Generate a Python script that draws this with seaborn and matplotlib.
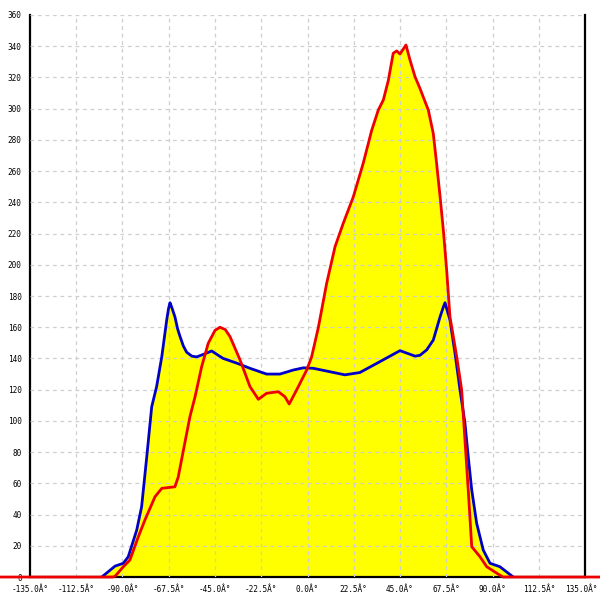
import matplotlib
matplotlib.use("Agg")
import matplotlib.pyplot as plt
import matplotlib.transforms as mtransforms
import seaborn as sns
import pandas as pd

# --- data (angle in degrees, count) ---
blue_x = [-100.1, -93.6, -89.6, -87.2, -83.1, -80.7, -78.2, -75.8, -73.4, -70.9,
          -68.5, -67.6, -66.9, -66.1, -64.5, -63.2, -62.0, -60.4, -58.8, -56.3, -53.9,
          -49.9, -46.6, -43.4, -41.0,
          -34.4, -28.0, -19.9, -13.4, -6.9, -2.0, 2.8, 10.9, 18.2, 25.5,
          35.3, 45.0, 52.3, 54.7, 58.0, 61.2, 64.5, 66.1, 66.9, 67.7, 69.3, 71.8, 74.2,
          76.6, 78.2, 79.9, 82.3, 85.5, 88.8, 93.6, 100.1]
blue_y = [0, 7, 8.8, 13, 30, 45, 77, 109, 122, 141,
          164.6, 172, 175.7, 173, 166.7, 159, 154, 148, 144, 141.5, 141,
          143, 144.8, 142, 140,
          137, 133.7, 130, 130, 132.6, 134, 133.7, 131.5, 129.5, 131,
          138, 145, 141.5, 142, 145.5, 151.8, 166.7, 173, 175.7, 172, 164.6, 143, 119.8,
          98.5, 77, 55.7, 34.4, 17.3, 8.8, 6.6, 0]

red_x = [-150, -94.6, -93.6, -89.6, -86.4, -82.3, -79.1, -74.2, -70.9, -64.5,
         -62.9, -60.4, -57.2, -54.7, -51.5, -48.3, -45.0, -42.6, -40.0, -37.7, -32.8,
         -28.0, -23.9, -19.9, -14.2, -11.0, -8.9, -5.3, -0.4, 2.0, 5.3,
         9.3, 13.4, 17.4, 22.3, 27.1, 31.2, 34.4, 36.9, 39.3, 41.7,
         43.4, 45.0, 47.9, 49.9, 52.3, 54.7, 58.8, 61.2, 62.8, 64.5,
         66.1, 67.7, 69.3, 72.6, 75.0, 76.6, 78.2, 79.9, 83.9, 87.2,
         92.0, 95.1, 150]
red_y = [0, 0, 0.5, 6.6, 10.9, 25.8, 36.5, 51.4, 56.8, 57.8,
         64, 81, 102.7, 115.5, 134.7, 149.7, 158, 160, 158.5, 154, 139,
         122, 113.8, 117.7, 118.7, 115.5, 110.8, 119.8, 132.6, 141, 160,
         188, 211.6, 226.6, 243.6, 265, 286, 299, 305.6, 318, 335.5,
         337, 335, 340.8, 331, 320.5, 313, 299, 284, 265, 243.6,
         222, 196.6, 166.7, 141, 119.8, 87.7, 55.7, 19.4, 13, 6.6,
         2.5, 0, 0]

x_ticks = [-135, -112.5, -90, -67.5, -45, -22.5, 0, 22.5, 45, 67.5, 90, 112.5, 135]
x_labels = ["-135.0Â°", "-112.5Â°", "-90.0Â°", "-67.5Â°", "-45.0Â°", "-22.5Â°", "0.0Â°",
            "22.5Â°", "45.0Â°", "67.5Â°", "90.0Â°", "112.5Â°", "135.0Â°"]
y_ticks = list(range(0, 361, 20))

blue_df = pd.DataFrame({"angle": blue_x, "count": blue_y})
red_df = pd.DataFrame({"angle": red_x, "count": red_y})

sns.set_style("white")
plt.rcParams["font.family"] = ["DejaVu Sans Mono"]

fig = plt.figure(figsize=(6, 6), dpi=100)
ax = fig.add_axes([0.05, 0.0383, 0.925, 0.9367])

# yellow fills under both curves
ax.fill_between(blue_df["angle"], blue_df["count"], 0, color="#ffff00", lw=0, zorder=1)
ax.fill_between(red_df["angle"], red_df["count"], 0, color="#ffff00", lw=0, zorder=1)

sns.lineplot(data=blue_df, x="angle", y="count", color="#0000c8", lw=2, ax=ax, zorder=4)
sns.lineplot(data=red_df, x="angle", y="count", color="#ee0000", lw=2, ax=ax, zorder=5,
             clip_on=False)

ax.set_xlim(-135, 135)
ax.set_ylim(0, 360)
ax.set_xticks(x_ticks)
ax.set_xticklabels(x_labels)
ax.set_yticks(y_ticks)
ax.set_yticklabels([str(v) for v in y_ticks])
ax.set_xlabel("")
ax.set_ylabel("")

ax.set_axisbelow(False)
ax.grid(True, color="#cfcfcf", linestyle=(0, (3, 3)), lw=0.9)
# no grid on top of the axis lines
for gl in [ax.xaxis.get_gridlines()[0], ax.xaxis.get_gridlines()[-1],
           ax.yaxis.get_gridlines()[0]]:
    gl.set_visible(False)

ax.tick_params(axis="both", direction="inout", length=8, width=1.2, color="black",
               labelsize=5.6, labelcolor="black", pad=2)
for side in ["left", "right", "bottom"]:
    ax.spines[side].set_color("black")
    ax.spines[side].set_linewidth(1.6)
ax.spines["top"].set_visible(False)

# nudge the last x label so it stays inside the image
last = ax.get_xticklabels()[-1]
last.set_transform(last.get_transform() +
                   mtransforms.ScaledTranslation(-3 / 72, 0, fig.dpi_scale_trans))

plt.savefig("out.png", dpi=100)
